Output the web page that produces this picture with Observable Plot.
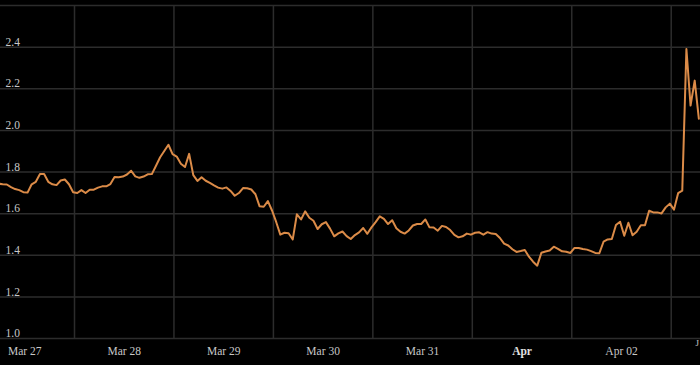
<!DOCTYPE html>
<html><head><meta charset="utf-8">
<script src="https://cdn.jsdelivr.net/npm/d3@7"></script>
<script src="https://cdn.jsdelivr.net/npm/@observablehq/plot@0.6"></script>
<style>html,body{margin:0;padding:0;background:#000;overflow:hidden}</style>
</head><body><div id="chart"></div>
<script>
// hourly samples starting at this time
const startTime = "2024-03-27T05:40:00Z";
const values = [
  1.744, 1.741, 1.740, 1.727, 1.718, 1.713, 1.703, 1.701, 1.741, 1.753,
  1.790, 1.790, 1.753, 1.741, 1.737, 1.759, 1.764, 1.741, 1.703, 1.699,
  1.713, 1.699, 1.715, 1.715, 1.725, 1.731, 1.731, 1.742, 1.776, 1.775,
  1.778, 1.788, 1.806, 1.779, 1.772, 1.778, 1.789, 1.790, 1.830, 1.871,
  1.901, 1.931, 1.886, 1.874, 1.840, 1.824, 1.887, 1.785, 1.757, 1.775,
  1.758, 1.748, 1.736, 1.725, 1.720, 1.726, 1.709, 1.686, 1.699, 1.723,
  1.722, 1.716, 1.693, 1.635, 1.633, 1.660, 1.615, 1.560, 1.499, 1.508,
  1.506, 1.476, 1.597, 1.572, 1.611, 1.580, 1.566, 1.526, 1.549, 1.559,
  1.528, 1.491, 1.505, 1.514, 1.492, 1.478, 1.497, 1.510, 1.531, 1.503,
  1.534, 1.559, 1.587, 1.575, 1.550, 1.568, 1.530, 1.513, 1.504, 1.519,
  1.543, 1.550, 1.550, 1.572, 1.534, 1.533, 1.518, 1.541, 1.536, 1.521,
  1.498, 1.486, 1.491, 1.504, 1.499, 1.508, 1.510, 1.499, 1.511, 1.504,
  1.502, 1.483, 1.456, 1.447, 1.429, 1.416, 1.420, 1.425, 1.393, 1.369,
  1.350, 1.412, 1.418, 1.423, 1.441, 1.431, 1.419, 1.417, 1.411, 1.435,
  1.435, 1.430, 1.427, 1.420, 1.411, 1.410, 1.465, 1.476, 1.478, 1.545,
  1.561, 1.494, 1.556, 1.496, 1.513, 1.544, 1.544, 1.614, 1.606, 1.606,
  1.601, 1.630, 1.648, 1.619, 1.698, 1.710, 2.391, 2.119, 2.239, 2.056
];
const yGridTicks = [1.0, 1.2, 1.4, 1.6, 1.8, 2.0, 2.2, 2.4, 2.6];
const yLabelTicks = [1.0, 1.2, 1.4, 1.6, 1.8, 2.0, 2.2, 2.4];
const dayLines = ["2024-03-28", "2024-03-29", "2024-03-30", "2024-03-31", "2024-04-01", "2024-04-02", "2024-04-03"];
const dayLabelDates = ["2024-03-27", "2024-03-28", "2024-03-29", "2024-03-30", "2024-03-31", "2024-04-02"];
const dayLabelTexts = ["Mar 27", "Mar 28", "Mar 29", "Mar 30", "Mar 31", "Apr 02"];
const monthLabelDate = "2024-04-01";
const monthLabelText = "Apr";
const xDomain = ["2024-03-27T06:08:30Z", "2024-04-03T07:04:00Z"];

const t0 = new Date(startTime).getTime();
const data = values.map((v, i) => ({date: new Date(t0 + i * 3600e3), value: v}));
const noon = s => new Date(s + "T12:00:00Z");
const labelMap = new Map(dayLabelDates.map((d, i) => [+noon(d), dayLabelTexts[i]]));

const gridColor = "#2c2c2c";
const chart = Plot.plot({
  width: 700,
  height: 365,
  marginTop: 5,
  marginBottom: 27,
  marginLeft: 0,
  marginRight: 0,
  style: {background: "#000", color: "#c8c8c8", fontFamily: "'Liberation Serif', 'Times New Roman', serif", fontSize: "11.5px"},
  x: {type: "utc", domain: xDomain.map(d => new Date(d))},
  y: {domain: [1.0, 2.6]},
  marks: [
    Plot.gridY(yGridTicks, {stroke: gridColor, strokeOpacity: 1, strokeWidth: 1.5}),
    Plot.gridX(dayLines.map(d => new Date(d + "T00:00:00Z")), {stroke: gridColor, strokeOpacity: 1, strokeWidth: 1.5}),
    Plot.axisY(yLabelTicks, {anchor: "left", tickSize: 0, tickPadding: 0, textAnchor: "start", dx: 5, dy: -5, tickFormat: d3.format(".1f"), label: null, fill: "#c8c8c8"}),
    Plot.axisX(dayLabelDates.map(noon), {anchor: "bottom", tickSize: 0, tickPadding: 8, tickFormat: d => labelMap.get(+d), label: null, fill: "#c8c8c8"}),
    Plot.axisX([noon(monthLabelDate)], {anchor: "bottom", tickSize: 0, tickPadding: 8, tickFormat: () => monthLabelText, label: null, fontWeight: "bold", fill: "#e0e0e0"}),
    Plot.text(["J"], {frameAnchor: "bottom-right", dx: -5, dy: 1, lineAnchor: "top", textAnchor: "start", fontSize: 9, fill: "#c8c8c8"}),
    Plot.line(data, {x: "date", y: "value", stroke: "#db8b48", strokeWidth: 2, clip: true})
  ]
});
document.getElementById("chart").append(chart);
</script>
</body></html>
